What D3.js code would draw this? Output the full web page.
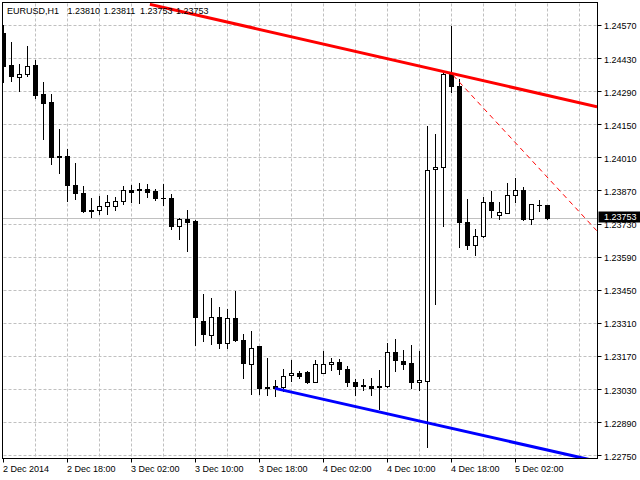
<!DOCTYPE html>
<html>
<head>
<meta charset="utf-8">
<script src="https://cdn.jsdelivr.net/npm/d3@7"></script>
<style>
    body { margin: 0; background: #fff; }
    svg { display: block; }
    text { font-family: 'Liberation Sans', Arial, sans-serif; font-size: 9px; fill: #000; }
</style>
</head>
<body>
<div id="chart"></div>
<script>
// EURUSD H1 bars, 2 Dec 2014 10:00 .. 5 Dec 2014 06:00
const opens = [
    1.24535, 1.24399, 1.24351, 1.24362, 1.24399, 1.24276, 1.24243, 1.24014, 1.24014, 1.23891,
    1.23861, 1.23788, 1.23786, 1.23803, 1.23805, 1.23824, 1.23870, 1.23878, 1.23878, 1.23866,
    1.23840, 1.23840, 1.23719, 1.23751, 1.23739, 1.23319, 1.23257, 1.23336, 1.23223, 1.23332,
    1.23239, 1.23138, 1.23214, 1.23038, 1.23043, 1.23040, 1.23089, 1.23096, 1.23103, 1.23062,
    1.23100, 1.23136, 1.23145, 1.23116, 1.23061, 1.23046, 1.23043, 1.23042, 1.23043, 1.23187,
    1.23150, 1.23142, 1.23059, 1.23064, 1.23960, 1.23970, 1.24361, 1.24312, 1.23737, 1.23638,
    1.23676, 1.23822, 1.23767, 1.23775, 1.23852, 1.23873, 1.23750, 1.23810, 1.23810
];
const highs = [
    1.24573, 1.24498, 1.24408, 1.24484, 1.24422, 1.24332, 1.24281, 1.24132, 1.24048, 1.23988,
    1.23891, 1.23839, 1.23850, 1.23853, 1.23843, 1.23891, 1.23895, 1.23904, 1.23898, 1.23878,
    1.23899, 1.23857, 1.23754, 1.23789, 1.23747, 1.23436, 1.23417, 1.23378, 1.23370, 1.23446,
    1.23264, 1.23277, 1.23214, 1.23162, 1.23069, 1.23116, 1.23154, 1.23107, 1.23107, 1.23154,
    1.23192, 1.23165, 1.23158, 1.23131, 1.23076, 1.23076, 1.23078, 1.23112, 1.23229, 1.23246,
    1.23199, 1.23217, 1.23192, 1.24145, 1.24111, 1.24371, 1.24569, 1.24344, 1.23836, 1.23709,
    1.23846, 1.23870, 1.23823, 1.23904, 1.23925, 1.23887, 1.23816, 1.23830, 1.23811
];
const lows = [
    1.24330, 1.24336, 1.24293, 1.24358, 1.24265, 1.24091, 1.23984, 1.23947, 1.23827, 1.23836,
    1.23780, 1.23761, 1.23772, 1.23772, 1.23791, 1.23816, 1.23823, 1.23819, 1.23846, 1.23832,
    1.23812, 1.23710, 1.23668, 1.23617, 1.23217, 1.23234, 1.23222, 1.23206, 1.23206, 1.23235,
    1.23078, 1.23011, 1.23011, 1.23007, 1.23003, 1.23023, 1.23065, 1.23078, 1.23056, 1.23062,
    1.23100, 1.23112, 1.23095, 1.23047, 1.23006, 1.23030, 1.23006, 1.22946, 1.23043, 1.23109,
    1.23119, 1.23035, 1.23027, 1.22788, 1.23392, 1.23723, 1.24288, 1.23634, 1.23625, 1.23597,
    1.23676, 1.23761, 1.23752, 1.23775, 1.23823, 1.23748, 1.23731, 1.23786, 1.23753
];
const closes = [
    1.24396, 1.24354, 1.24361, 1.24395, 1.24272, 1.24240, 1.24011, 1.24013, 1.23892, 1.23858,
    1.23781, 1.23781, 1.23806, 1.23819, 1.23827, 1.23873, 1.23863, 1.23871, 1.23863, 1.23837,
    1.23838, 1.23719, 1.23751, 1.23736, 1.23333, 1.23265, 1.23336, 1.23223, 1.23332, 1.23236,
    1.23142, 1.23205, 1.23035, 1.23036, 1.23035, 1.23085, 1.23099, 1.23086, 1.23061, 1.23137,
    1.23137, 1.23145, 1.23117, 1.23058, 1.23045, 1.23044, 1.23035, 1.23040, 1.23187, 1.23151,
    1.23138, 1.23062, 1.23069, 1.23957, 1.23971, 1.24361, 1.24312, 1.23736, 1.23638, 1.23676,
    1.23822, 1.23786, 1.23777, 1.23852, 1.23873, 1.23748, 1.23813, 1.23808, 1.23753
];

const timeTickBars = [0, 8, 16, 24, 32, 40, 48, 56, 64];
const timeTickLabels = ['2 Dec 2014', '2 Dec 18:00', '3 Dec 02:00', '3 Dec 10:00', '3 Dec 18:00',
    '4 Dec 02:00', '4 Dec 10:00', '4 Dec 18:00', '5 Dec 02:00'];
const priceTicks = [1.24570, 1.24430, 1.24290, 1.24150, 1.24010, 1.23870, 1.23730,
    1.23590, 1.23450, 1.23310, 1.23170, 1.23030, 1.22890, 1.22750];

const symbolTitle = 'EURUSD,H1';
const lastBid = 1.23753;

// trend lines as [bar, price] pairs
const resistanceLine = [[18.3, 1.24659], [74.2, 1.24226]];
const projectionLine = [[56.2, 1.24359], [74.15, 1.23702]];
const supportLine = [[33.94, 1.23035], [74.19, 1.22727]];

const width = 640;
const height = 480;
const plot = { left: 2.5, right: 597.5, top: 2.5, bottom: 458.5 };

const x = d3.scaleLinear().domain([0, 74]).range([3.5, 595.5]);
const y = d3.scaleLinear().domain([1.22750, 1.24570]).range([455.8, 25.4]);
const crisp = v => Math.round(v) + 0.5;

const svg = d3.select('#chart')
    .append('svg')
    .attr('width', width)
    .attr('height', height);

svg.append('rect')
    .attr('width', width)
    .attr('height', height)
    .attr('fill', '#fff');

svg.append('clipPath')
    .attr('id', 'plot-clip')
    .append('rect')
    .attr('x', plot.left + 0.5)
    .attr('y', plot.top + 0.5)
    .attr('width', plot.right - plot.left - 1)
    .attr('height', plot.bottom - plot.top - 1);

// grid
const grid = svg.append('g')
    .attr('stroke', '#c0c0c0')
    .attr('stroke-dasharray', '3,2');

grid.selectAll('.hgrid')
    .data(priceTicks)
    .enter()
    .append('line')
    .attr('x1', plot.left + 1)
    .attr('x2', plot.right)
    .attr('y1', d => crisp(y(d) - 0.5))
    .attr('y2', d => crisp(y(d) - 0.5));

grid.selectAll('.vgrid')
    .data(d3.range(4, 74, 4))
    .enter()
    .append('line')
    .attr('x1', d => x(d))
    .attr('x2', d => x(d))
    .attr('y1', plot.top + 1)
    .attr('y2', plot.bottom);

// bid line
svg.append('line')
    .attr('x1', plot.left)
    .attr('x2', plot.right)
    .attr('y1', crisp(y(lastBid) - 0.5))
    .attr('y2', crisp(y(lastBid) - 0.5))
    .attr('stroke', '#c0c0c0');

// candles
const bars = opens.map((o, i) => ({ i, o, h: highs[i], l: lows[i], c: closes[i] }));

const candles = svg.append('g')
    .attr('clip-path', 'url(#plot-clip)');

candles.selectAll('.wick')
    .data(bars)
    .enter()
    .append('line')
    .attr('x1', d => x(d.i))
    .attr('x2', d => x(d.i))
    .attr('y1', d => Math.round(y(d.h)))
    .attr('y2', d => Math.round(y(d.l)) + 1)
    .attr('stroke', '#000');

bars.forEach(d => {
    const top = crisp(y(Math.max(d.o, d.c)) - 0.5);
    const bottom = crisp(y(Math.min(d.o, d.c)) - 0.5);
    if (bottom - top < 1) {
        candles.append('line')
            .attr('x1', x(d.i) - 2.5)
            .attr('x2', x(d.i) + 2.5)
            .attr('y1', top)
            .attr('y2', top)
            .attr('stroke', '#000');
    } else {
        candles.append('rect')
            .attr('x', x(d.i) - 2)
            .attr('y', top)
            .attr('width', 4)
            .attr('height', bottom - top)
            .attr('fill', d.c >= d.o ? '#fff' : '#000')
            .attr('stroke', '#000');
    }
});

// trend lines
const linePath = d3.line()
    .x(d => x(d[0]))
    .y(d => y(d[1]));

const lines = svg.append('g')
    .attr('clip-path', 'url(#plot-clip)')
    .attr('fill', 'none');

lines.append('path')
    .attr('d', linePath(projectionLine))
    .attr('stroke', '#ff0000')
    .attr('stroke-width', 1)
    .attr('stroke-dasharray', '5,4');

lines.append('path')
    .attr('d', linePath(resistanceLine))
    .attr('stroke', '#ff0000')
    .attr('stroke-width', 3);

lines.append('path')
    .attr('d', linePath(supportLine))
    .attr('stroke', '#0000ff')
    .attr('stroke-width', 3);

// frame
svg.append('rect')
    .attr('x', plot.left)
    .attr('y', plot.top)
    .attr('width', plot.right - plot.left)
    .attr('height', plot.bottom - plot.top)
    .attr('fill', 'none')
    .attr('stroke', '#000');

// price axis
const priceAxis = svg.append('g');

priceAxis.selectAll('.ptick')
    .data(priceTicks)
    .enter()
    .append('line')
    .attr('x1', plot.right)
    .attr('x2', plot.right + 4)
    .attr('y1', d => crisp(y(d) - 0.5))
    .attr('y2', d => crisp(y(d) - 0.5))
    .attr('stroke', '#000');

priceAxis.selectAll('.plabel')
    .data(priceTicks)
    .enter()
    .append('text')
    .attr('x', 604)
    .attr('y', d => Math.round(y(d)) + 3.5)
    .text(d => d.toFixed(5));

// current bid tag over the axis
const bidY = crisp(y(lastBid) - 0.5);
svg.append('rect')
    .attr('x', plot.right + 1)
    .attr('y', bidY - 7)
    .attr('width', width - plot.right - 1)
    .attr('height', 11)
    .attr('fill', '#000');

svg.append('text')
    .attr('x', 604)
    .attr('y', bidY + 1.5)
    .style('fill', '#fff')
    .text(lastBid.toFixed(5));

// time axis
const timeAxis = svg.append('g');

timeAxis.selectAll('.ttick')
    .data(timeTickBars)
    .enter()
    .append('line')
    .attr('x1', d => x(d))
    .attr('x2', d => x(d))
    .attr('y1', plot.bottom)
    .attr('y2', plot.bottom + 4)
    .attr('stroke', '#000');

timeAxis.selectAll('.tlabel')
    .data(timeTickBars)
    .enter()
    .append('text')
    .attr('x', d => x(d) - 0.5)
    .attr('y', 471.5)
    .text((d, i) => timeTickLabels[i]);

// title with last bar OHLC
const last = bars[bars.length - 1];
const titleParts = [symbolTitle, last.o, last.h, last.l, last.c];
const titleX = [7, 67.5, 103.5, 140, 176];

svg.selectAll('.title')
    .data(titleParts)
    .enter()
    .append('text')
    .attr('x', (d, i) => titleX[i])
    .attr('y', 14)
    .text(d => typeof d === 'number' ? d.toFixed(5) : d);
</script>
</body>
</html>
